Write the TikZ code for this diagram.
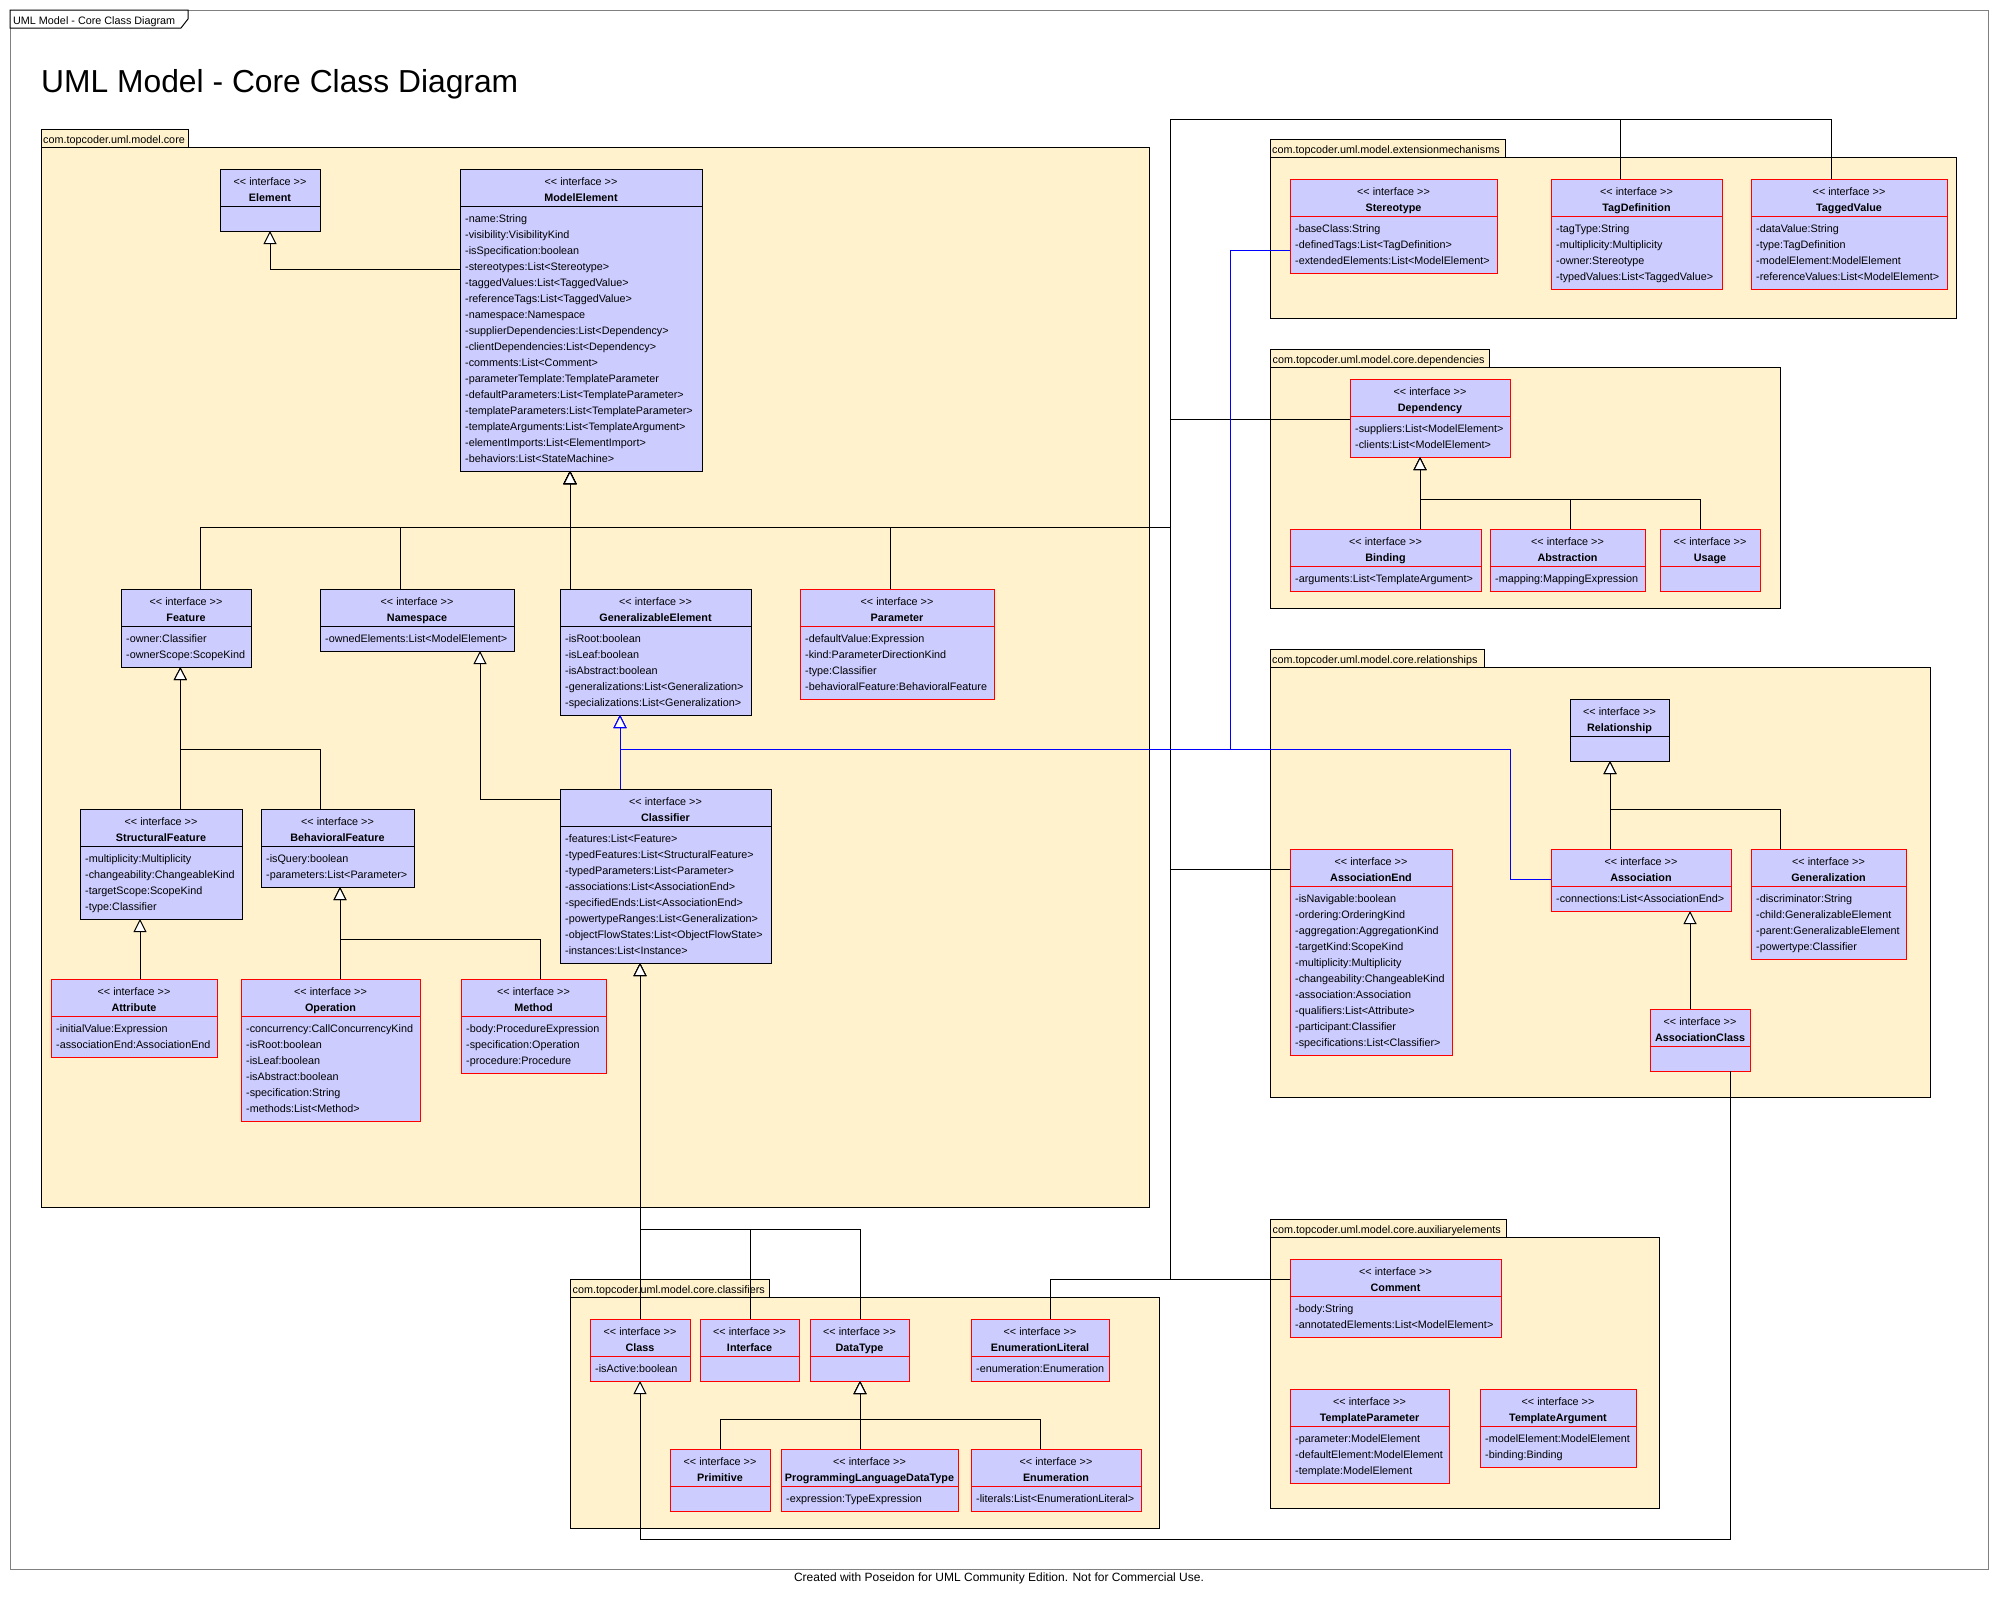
\documentclass[tikz,border=0pt]{standalone}
\usepackage{fontspec}
\setmainfont{Liberation Sans}
\usetikzlibrary{arrows.meta}
\definecolor{clsfill}{HTML}{CCCCFF}
\definecolor{pkgfill}{HTML}{FFF2CC}
\definecolor{umlred}{HTML}{FF0000}
\definecolor{umlblue}{HTML}{0000FF}
\newcommand\umlfont{\fontsize{10.8}{13}\selectfont}
\tikzset{
  clsbox/.style={rectangle, fill=clsfill, line width=1pt, inner sep=0pt, outer sep=0pt},
  stereo/.style={anchor=base, font=\umlfont, inner sep=0pt},
  cname/.style={anchor=base, font=\umlfont\bfseries, inner sep=0pt},
  attr/.style={anchor=base west, font=\umlfont, inner sep=0pt},
  pkgshape/.style={rectangle, draw=black, fill=pkgfill, line width=1pt, inner sep=0pt, outer sep=0pt, anchor=north west},
  pkglabel/.style={anchor=base west, font=\umlfont, inner sep=0pt},
  gen/.style={draw=black, line width=1pt, -{Triangle[length=13pt,width=13pt,fill=white]}},
  genblue/.style={draw=umlblue, line width=1pt, -{Triangle[length=13pt,width=13pt,fill=white]}},
}
% #1 name, #2 x, #3 y, #4 width, #5 number of attributes, #6 border colour, #7 title, #8 attributes
\newcommand\umlbox[8]{%
  \ifnum#5=0 \def\hh{62}\else\pgfmathsetmacro\hh{46+16*#5}\fi
  \node[clsbox, draw=#6, minimum width=#4pt, minimum height=\hh pt, anchor=north west] (#1) at (#2,#3) {};
  \draw[#6, line width=1pt] ([yshift=-37pt]#1.north west) -- ([yshift=-37pt]#1.north east);
  \node[stereo] (#1-st) at ([yshift=-16pt]#1.north) {<{}< interface >{}>};
  \node[cname] (#1-nm) at ([yshift=-32pt]#1.north) {#7};
  \ifnum#5>0
    \foreach \a [count=\i] in {#8} {\node[attr] (#1-a\i) at ([xshift=5pt,yshift={-37pt-16pt*\i}]#1.north west) {\a};}
  \fi
}
% #1 name, #2 x, #3 tab top, #4 tab width, #5 body width, #6 body height, #7 label
\newcommand\umlpkg[7]{%
  \node[pkgshape, minimum width=#5pt, minimum height=#6pt] (#1) at (#2,#3+18) {};
  \node[pkgshape, minimum width=#4pt, minimum height=18pt] (#1-tab) at (#2,#3) {};
  \node[pkglabel] (#1-lbl) at ([xshift=2pt,yshift=-14pt]#1-tab.north west) {#7};
}
\begin{document}
\begin{tikzpicture}[x=1pt,y=-1pt]
\useasboundingbox (0,0) rectangle (1998,1601);
\fill[white] (0,0) rectangle (1998,1601);

% frame
\node[draw=gray, line width=1pt, minimum width=1978pt, minimum height=1559pt, anchor=north west, inner sep=0pt, outer sep=0pt] (frame) at (10,10) {};
\filldraw[fill=white, draw=black, line width=1pt] (10,10) -- (188,10) -- (188,19) -- (181,28) -- (10,28) -- cycle;
\node[anchor=base west, font=\umlfont, inner sep=0pt] (framelbl) at (13,24.5) {UML Model - Core Class Diagram};
\node[anchor=base west, font=\fontsize{31.8}{36}\selectfont, inner sep=0pt] (title) at (41,92) {UML Model - Core Class Diagram};
\node[anchor=base, font=\fontsize{12}{14}\selectfont, inner sep=0pt] (footer) at (999,1581) {Created with Poseidon for UML Community Edition. Not for Commercial Use.};

% packages
\umlpkg{core}{41}{129}{147}{1108}{1060}{com.topcoder.uml.model.core}
\umlpkg{ext}{1270}{139}{235}{686}{161}{com.topcoder.uml.model.extensionmechanisms}
\umlpkg{dep}{1270.5}{349}{218.5}{509.5}{241}{com.topcoder.uml.model.core.dependencies}
\umlpkg{rel}{1270}{649}{214}{660}{430}{com.topcoder.uml.model.core.relationships}
\umlpkg{clsf}{570.5}{1279}{198.5}{588.5}{231}{com.topcoder.uml.model.core.classifiers}
\umlpkg{aux}{1270.5}{1219}{235.5}{388.5}{271}{com.topcoder.uml.model.core.auxiliaryelements}

% core classes
\umlbox{element}{220}{169}{100}{0}{black}{Element}{}
\umlbox{modelelement}{460}{169}{242}{16}{black}{ModelElement}{-name:String,-visibility:VisibilityKind,-isSpecification:boolean,-stereotypes:List<Stereotype>,-taggedValues:List<TaggedValue>,-referenceTags:List<TaggedValue>,-namespace:Namespace,-supplierDependencies:List<Dependency>,-clientDependencies:List<Dependency>,-comments:List<Comment>,-parameterTemplate:TemplateParameter,-defaultParameters:List<TemplateParameter>,-templateParameters:List<TemplateParameter>,-templateArguments:List<TemplateArgument>,-elementImports:List<ElementImport>,-behaviors:List<StateMachine>}
\umlbox{feature}{121}{589}{130}{2}{black}{Feature}{-owner:Classifier,-ownerScope:ScopeKind}
\umlbox{namespace}{320}{589}{194}{1}{black}{Namespace}{-ownedElements:List<ModelElement>}
\umlbox{genelem}{560}{589}{191}{5}{black}{GeneralizableElement}{-isRoot:boolean,-isLeaf:boolean,-isAbstract:boolean,-generalizations:List<Generalization>,-specializations:List<Generalization>}
\umlbox{parameter}{800}{589}{194}{4}{umlred}{Parameter}{-defaultValue:Expression,-kind:ParameterDirectionKind,-type:Classifier,-behavioralFeature:BehavioralFeature}
\umlbox{structfeat}{80}{809}{162}{4}{black}{StructuralFeature}{-multiplicity:Multiplicity,-changeability:ChangeableKind,-targetScope:ScopeKind,-type:Classifier}
\umlbox{behavfeat}{261}{809}{153}{2}{black}{BehavioralFeature}{-isQuery:boolean,-parameters:List<Parameter>}
\umlbox{classifier}{560}{789}{211}{8}{black}{Classifier}{-features:List<Feature>,-typedFeatures:List<StructuralFeature>,-typedParameters:List<Parameter>,-associations:List<AssociationEnd>,-specifiedEnds:List<AssociationEnd>,-powertypeRanges:List<Generalization>,-objectFlowStates:List<ObjectFlowState>,-instances:List<Instance>}
\umlbox{attribute}{51}{979}{166}{2}{umlred}{Attribute}{-initialValue:Expression,-associationEnd:AssociationEnd}
\umlbox{operation}{241}{979}{179}{6}{umlred}{Operation}{-concurrency:CallConcurrencyKind,-isRoot:boolean,-isLeaf:boolean,-isAbstract:boolean,-specification:String,-methods:List<Method>}
\umlbox{method}{461}{979}{145}{3}{umlred}{Method}{-body:ProcedureExpression,-specification:Operation,-procedure:Procedure}

% extension mechanisms
\umlbox{stereotype}{1290}{179}{207}{3}{umlred}{Stereotype}{-baseClass:String,-definedTags:List<TagDefinition>,-extendedElements:List<ModelElement>}
\umlbox{tagdef}{1551}{179}{171}{4}{umlred}{TagDefinition}{-tagType:String,-multiplicity:Multiplicity,-owner:Stereotype,-typedValues:List<TaggedValue>}
\umlbox{taggedvalue}{1751}{179}{196}{4}{umlred}{TaggedValue}{-dataValue:String,-type:TagDefinition,-modelElement:ModelElement,-referenceValues:List<ModelElement>}

% dependencies
\umlbox{dependency}{1350}{379}{160}{2}{umlred}{Dependency}{-suppliers:List<ModelElement>,-clients:List<ModelElement>}
\umlbox{binding}{1290}{529}{191}{1}{umlred}{Binding}{-arguments:List<TemplateArgument>}
\umlbox{abstraction}{1490}{529}{155}{1}{umlred}{Abstraction}{-mapping:MappingExpression}
\umlbox{usage}{1660}{529}{100}{0}{umlred}{Usage}{}

% relationships
\umlbox{relationship}{1570}{699}{99}{0}{black}{Relationship}{}
\umlbox{assocend}{1290}{849}{162}{10}{umlred}{AssociationEnd}{-isNavigable:boolean,-ordering:OrderingKind,-aggregation:AggregationKind,-targetKind:ScopeKind,-multiplicity:Multiplicity,-changeability:ChangeableKind,-association:Association,-qualifiers:List<Attribute>,-participant:Classifier,-specifications:List<Classifier>}
\umlbox{association}{1551}{849}{180}{1}{umlred}{Association}{-connections:List<AssociationEnd>}
\umlbox{generalization}{1751}{849}{155}{4}{umlred}{Generalization}{-discriminator:String,-child:GeneralizableElement,-parent:GeneralizableElement,-powertype:Classifier}
\umlbox{assocclass}{1650}{1009}{100}{0}{umlred}{AssociationClass}{}

% classifiers
\umlbox{class}{590}{1319}{100}{1}{umlred}{Class}{-isActive:boolean}
\umlbox{interface}{700}{1319}{99}{0}{umlred}{Interface}{}
\umlbox{datatype}{810}{1319}{99}{0}{umlred}{DataType}{}
\umlbox{enumlit}{971}{1319}{138}{1}{umlred}{EnumerationLiteral}{-enumeration:Enumeration}
\umlbox{primitive}{670}{1449}{100}{0}{umlred}{Primitive}{}
\umlbox{pldt}{781}{1449}{177}{1}{umlred}{ProgrammingLanguageDataType}{-expression:TypeExpression}
\umlbox{enumeration}{971}{1449}{170}{1}{umlred}{Enumeration}{-literals:List<EnumerationLiteral>}

% auxiliary elements
\umlbox{comment}{1290}{1259}{211}{2}{umlred}{Comment}{-body:String,-annotatedElements:List<ModelElement>}
\umlbox{tparam}{1290}{1389}{159}{3}{umlred}{TemplateParameter}{-parameter:ModelElement,-defaultElement:ModelElement,-template:ModelElement}
\umlbox{targ}{1480}{1389}{156}{2}{umlred}{TemplateArgument}{-modelElement:ModelElement,-binding:Binding}

% junction points
\coordinate (meBus) at (570,527.5);
\coordinate (meR) at (1170,527.5);
\coordinate (extTop) at (1170,119);
\coordinate (cmJ) at (1170,1279);
\coordinate (featJ) at (180.3,749);
\coordinate (bfJ) at (340,939);
\coordinate (depJ) at (1420,499);
\coordinate (relJ) at (1610,809);
\coordinate (clJ) at (640,1229);
\coordinate (dtJ) at (860,1419);
\coordinate (acJ) at (640,1539);
\coordinate (blueJ) at (620,749);
\coordinate (blueA) at (1230,749);
\coordinate (blueB) at (1510,749);

% ModelElement -> Element
\draw[gen] ([yshift=-100pt]modelelement.north west) -| (element.south);
% children of ModelElement
\draw[gen] ([xshift=14pt]feature.north) |- (meBus) -- ([xshift=-11pt]modelelement.south);
\draw[gen] ([xshift=-17pt]namespace.north) |- (meBus) -- ([xshift=-11pt]modelelement.south);
\draw[gen] ([xshift=-85.5pt]genelem.north) -- ([xshift=-11pt]modelelement.south);
\draw[gen] ([xshift=-7pt]parameter.north) |- (meBus) -- ([xshift=-11pt]modelelement.south);
\draw[gen] ([xshift=-15.6pt]tagdef.north) |- (extTop) -- (meR) -- (meBus) -- ([xshift=-11pt]modelelement.south);
\draw[gen] ([xshift=-18pt]taggedvalue.north) |- (extTop) -- (meR) -- (meBus) -- ([xshift=-11pt]modelelement.south);
\draw[gen] ([yshift=-40pt]dependency.north west) -| (meR) -- (meBus) -- ([xshift=-11pt]modelelement.south);
\draw[gen] ([yshift=-20pt]assocend.north west) -| (meR) -- (meBus) -- ([xshift=-11pt]modelelement.south);
\draw[gen] ([yshift=-20pt]comment.north west) -| (meR) -- (meBus) -- ([xshift=-11pt]modelelement.south);
\draw[gen] ([xshift=10.5pt]enumlit.north) |- (cmJ) -- (meR) -- (meBus) -- ([xshift=-11pt]modelelement.south);
% Feature tree
\draw[gen] ([xshift=19.3pt]structfeat.north) -- ([xshift=-5.7pt]feature.south);
\draw[gen] ([xshift=-17.5pt]behavfeat.north) |- (featJ) -- ([xshift=-5.7pt]feature.south);
\draw[gen] ([xshift=6pt]attribute.north) -- ([xshift=-21pt]structfeat.south);
\draw[gen] ([xshift=9.5pt]operation.north) -- ([xshift=2.5pt]behavfeat.south);
\draw[gen] ([xshift=6.5pt]method.north) |- (bfJ) -- ([xshift=2.5pt]behavfeat.south);
% Classifier -> Namespace
\draw[gen] ([yshift=-10pt]classifier.north west) -| ([xshift=63pt]namespace.south);
% GeneralizableElement (blue)
\draw[genblue] ([xshift=-45.5pt]classifier.north) -- ([xshift=-35.5pt]genelem.south);
\draw[genblue] ([yshift=-71pt]stereotype.north west) -| (blueA) -- (blueJ) -- ([xshift=-35.5pt]genelem.south);
\draw[genblue] ([yshift=-30pt]association.north west) -| (blueB) -- (blueJ) -- ([xshift=-35.5pt]genelem.south);
% Dependency tree
\draw[gen] ([xshift=34.5pt]binding.north) -- ([xshift=-10pt]dependency.south);
\draw[gen] ([xshift=2.5pt]abstraction.north) |- (depJ) -- ([xshift=-10pt]dependency.south);
\draw[gen] ([xshift=-10pt]usage.north) |- (depJ) -- ([xshift=-10pt]dependency.south);
% Relationship tree
\draw[gen] ([xshift=-31pt]association.north) -- ([xshift=-9.5pt]relationship.south);
\draw[gen] ([xshift=-48.5pt]generalization.north) |- (relJ) -- ([xshift=-9.5pt]relationship.south);
\draw[gen] ([xshift=-10pt]assocclass.north) -- ([xshift=49pt]association.south);
% Classifier tree
\draw[gen] (class.north) -- ([xshift=-25.5pt]classifier.south);
\draw[gen] ([xshift=0.5pt]interface.north) |- (clJ) -- ([xshift=-25.5pt]classifier.south);
\draw[gen] ([xshift=0.5pt]datatype.north) |- (clJ) -- ([xshift=-25.5pt]classifier.south);
\draw[gen] ([xshift=-9.5pt]pldt.north) -- ([xshift=0.5pt]datatype.south);
\draw[gen] (primitive.north) |- (dtJ) -- ([xshift=0.5pt]datatype.south);
\draw[gen] ([xshift=-15.5pt]enumeration.north) |- (dtJ) -- ([xshift=0.5pt]datatype.south);
\draw[gen] ([xshift=30pt]assocclass.south) |- (acJ) -- (class.south);
\end{tikzpicture}
\end{document}
